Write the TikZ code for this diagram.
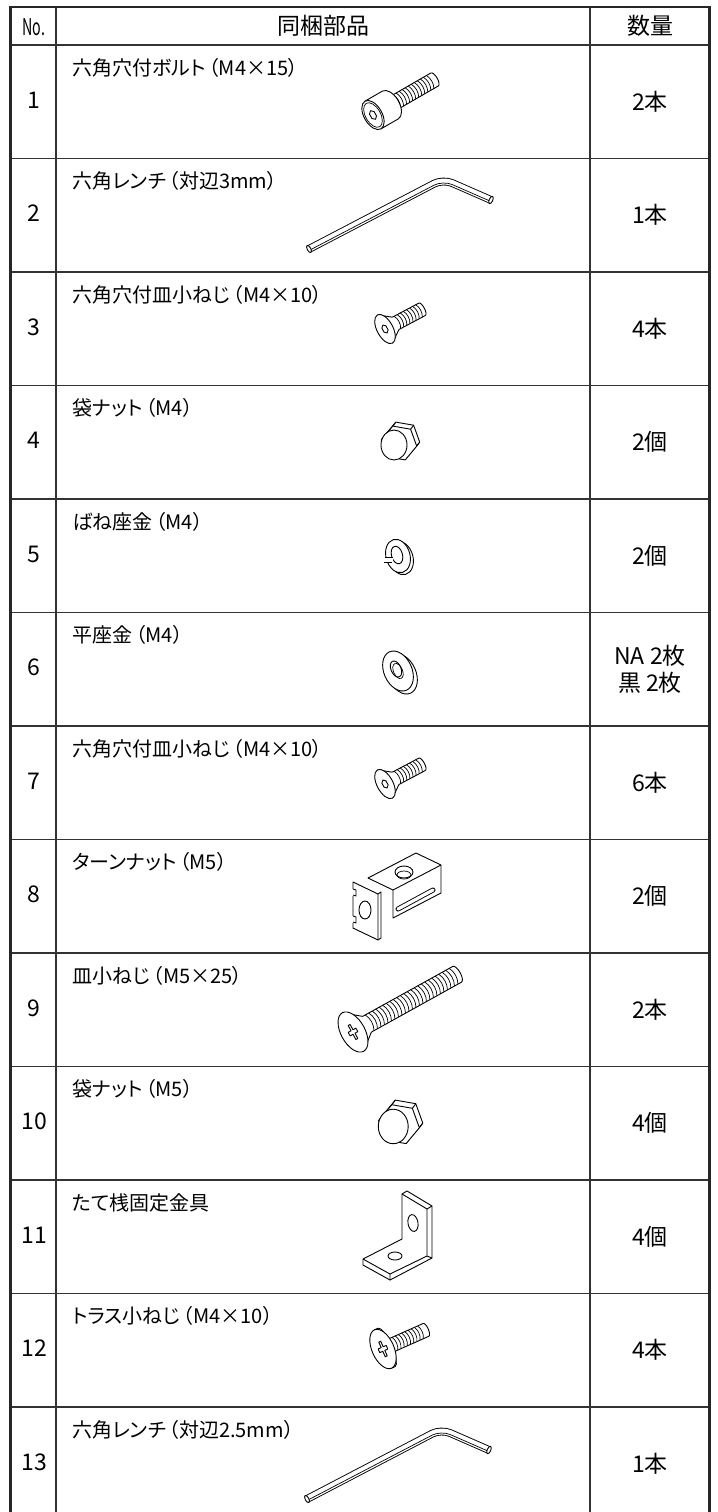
\documentclass[tikz,border=0pt]{standalone}
\usepackage{graphicx}
\usepackage{fontspec}
\setmainfont{Noto Sans CJK JP}
\newfontfamily\itemfont[RawFeature=+palt]{Noto Sans CJK JP}
\newcommand{\lpar}{\hspace{1.5pt}（}
\usepackage{tikz}

\begin{document}
\begin{tikzpicture}[x=0.5pt, y=-0.5pt,
	gridline/.style={line width=0.7pt, black!80},
	borderline/.style={line width=1.25pt, black!85},
	headtext/.style={font=\fontsize{11.5}{13}\selectfont, inner sep=0pt},
	numtext/.style={font=\fontsize{11.5}{13}\selectfont, inner sep=0pt},
	itemtext/.style={anchor=base west, font=\itemfont\fontsize{10}{12}\selectfont, inner sep=0pt},
	qtytext/.style={font=\fontsize{11.5}{13.5}\selectfont, align=center, inner sep=0pt},
	partline/.style={line width=0.45pt, line join=round},
	thread/.style={line width=0.35pt},
	pics/hexcsk/.style={code={
		\draw[partline, fill=white] (10,-7) -- (42,-7) arc[start angle=-90, end angle=90, x radius=2.5, y radius=7] -- (10,7) -- cycle;
		\foreach \t in {14,17.5,...,39} \draw[thread] (\t,-7) .. controls (\t+2.5,-3) and (\t+2.5,3) .. (\t,7);
		\fill[white] (0,-16) -- (12,-7) -- (12,7) -- (0,16) -- cycle;
		\draw[partline] (0,-16) -- (12,-7) (0,16) -- (12,7);
		\draw[partline, fill=white] (0,0) ellipse [x radius=8, y radius=16];
		\draw[partline, xscale=0.6] (30:4.5) -- (90:4.5) -- (150:4.5) -- (210:4.5) -- (270:4.5) -- (330:4.5) -- cycle;
	}},
	pics/capnut/.style={code={
		\draw[partline, fill=white] (20.7,0.1) -- (9.2,13.9) -- (-8.6,10.8) -- (-14.7,-6.1) -- (-3.2,-19.9) -- (14.6,-16.8) -- cycle;
		\draw[partline] (20.7,0.1) -- (17.7,4.1) (9.2,13.9) -- (6.2,17.9) (-14.7,-6.1) -- (-17.7,-2.1) (-3.2,-19.9) -- (-6.2,-15.9) (14.6,-16.8) -- (11.6,-12.8);
		\draw[partline, fill=white] (17.7,4.1) -- (6.2,17.9) -- (-11.6,14.8) -- (-17.7,-2.1) -- (-6.2,-15.9) -- (11.6,-12.8) -- cycle;
		\draw[partline, fill=white] (-5,3) ellipse [x radius=13, y radius=15];
	}},
	pics/hexkey/.style={code={
		\draw[partline, double=white, double distance=3pt, rounded corners=5pt] (-134,70) -- (0,0) -- (48,21);
		\draw[thread, rounded corners=5pt] (-134,71.5) -- (0,1.5) -- (48,22.5);
		\draw[partline, fill=white, rotate around={27.6:(-134,70)}] (-134,70) ellipse [x radius=1.8, y radius=4];
		\draw[partline, fill=white, rotate around={-23.6:(48,21)}] (48,21) ellipse [x radius=1.8, y radius=4];
	}}]
	\useasboundingbox (0,0) rectangle (718,1512);

	% table
	\draw[gridline] (56,7) -- (56,1512) (590,7) -- (590,1512);
	\draw[gridline] (10.5,45) -- (709.5,45);
	\foreach \k in {1,...,12} \draw[gridline] (10.5,{45+113.5*\k}) -- (709.5,{45+113.5*\k});
	\draw[borderline] (10.5,1512) -- (10.5,7) -- (709.5,7) -- (709.5,1512);

	% header
	\node[headtext] (hno) at (34,27) {\scalebox{0.62}[1]{No.}};
	\node[headtext] (hpart) at (323,26) {同梱部品};
	\node[headtext] (hqty) at (650,26) {数量};

	% 1
	\node[numtext] (n1) at (34,100) {1};
	\node[itemtext] (i1) at (72,75) {六角穴付ボルト\lpar M4×15）};
	\node[qtytext] (q1) at (650,102) {2本};
	\begin{scope}[shift={(373,115)}, rotate=30]
		\draw[partline, fill=white] (20,-7.5) -- (71,-7.5) arc[start angle=-90, end angle=90, x radius=3, y radius=7.5] -- (20,7.5) -- cycle;
		\foreach \t in {24,27.5,...,69} \draw[thread] (\t,-7.5) .. controls (\t+2.5,-3) and (\t+2.5,3) .. (\t,7.5);
		\draw[partline, fill=white] (0,-16) -- (20,-16) arc[start angle=-90, end angle=90, x radius=9, y radius=16] -- (0,16) -- cycle;
		\draw[partline, fill=white] (0,0) ellipse [x radius=9, y radius=16];
		\draw[thread] (0,0) ellipse [x radius=7.5, y radius=13.5];
		\draw[partline, xscale=0.6] (30:5) -- (90:5) -- (150:5) -- (210:5) -- (270:5) -- (330:5) -- cycle;
	\end{scope}

	% 2
	\node[numtext] (n2) at (34,213) {2};
	\node[itemtext] (i2) at (72,188.5) {六角レンチ\lpar 対辺3mm）};
	\node[qtytext] (q2) at (650,215) {1本};
	\pic at (443,179) {hexkey};

	% 3
	\node[numtext] (n3) at (34,327) {3};
	\node[itemtext] (i3) at (72,302) {六角穴付皿小ねじ\lpar M4×10）};
	\node[qtytext] (q3) at (650,329) {4本};
	\pic[rotate=28] at (385,329) {hexcsk};

	% 4
	\node[numtext] (n4) at (34,440) {4};
	\node[itemtext] (i4) at (72,415.5) {袋ナット\lpar M4）};
	\node[qtytext] (q4) at (650,442) {2個};
	\pic at (399,442) {capnut};

	% 5
	\node[numtext] (n5) at (34,554) {5};
	\node[itemtext] (i5) at (72,529) {ばね座金\lpar M4）};
	\node[qtytext] (q5) at (650,556) {2個};
	\draw[partline, fill=white, rotate around={16:(401,558)}] (401,558) ellipse [x radius=12, y radius=17];
	\draw[partline, fill=white, rotate around={16:(398,556)}] (398,556) ellipse [x radius=12, y radius=17];
	\draw[partline, rotate around={16:(397,555)}] (397,555) ellipse [x radius=5.5, y radius=9];
	\fill[white] (384,557) rectangle (393,562);
	\draw[partline] (385,557) -- (393,557) (384,562) -- (392,562);

	% 6
	\node[numtext] (n6) at (34,667) {6};
	\node[itemtext] (i6) at (72,642.5) {平座金\lpar M4）};
	\node[qtytext] (q6) at (650,669) {NA 2枚\\黒 2枚};
	\draw[partline, fill=white, rotate around={24:(402,674)}] (402,674) ellipse [x radius=14, y radius=21];
	\draw[partline, fill=white, rotate around={24:(398,671)}] (398,671) ellipse [x radius=14, y radius=21];
	\draw[partline, rotate around={24:(396,669)}] (396,669) ellipse [x radius=5, y radius=8.5];
	\draw[thread, rotate around={24:(398,671)}] (398,671) ellipse [x radius=4.5, y radius=8];

	% 7
	\node[numtext] (n7) at (34,781) {7};
	\node[itemtext] (i7) at (72,756) {六角穴付皿小ねじ\lpar M4×10）};
	\node[qtytext] (q7) at (650,783) {6本};
	\pic[rotate=28] at (385,784) {hexcsk};

	% 8
	\node[numtext] (n8) at (34,894) {8};
	\node[itemtext] (i8) at (72,869.5) {ターンナット\lpar M5）};
	\node[qtytext] (q8) at (650,896) {2個};
	\draw[partline, fill=white] (368,878) -- (416,853) -- (441,865) -- (441,893) -- (393,918) -- (393,890) -- cycle;
	\draw[partline] (393,890) -- (441,865);
	\draw[partline] (404,872) ellipse [x radius=9, y radius=6];
	\draw[thread] (404,875) ellipse [x radius=7, y radius=4];
	\draw[partline, double=white, double distance=1.6pt, line cap=round] (398,909) -- (433,890);
	\draw[partline, fill=white] (353,882) -- (378,894) -- (378,940) -- (353,928) -- cycle;
	\draw[partline] (378,894) -- (381,892) -- (381,938) -- (378,940);
	\fill[white] (352,889) rectangle (356,896);
	\draw[partline] (353,889) -- (356,890) -- (356,896) -- (353,895);
	\fill[white] (352,916) rectangle (356,923);
	\draw[partline] (353,916) -- (356,917) -- (356,923) -- (353,922);
	\draw[partline] (365,910) ellipse [x radius=6, y radius=9];

	% 9
	\node[numtext] (n9) at (34,1008) {9};
	\node[itemtext] (i9) at (72,983) {皿小ねじ\lpar M5×25）};
	\node[qtytext] (q9) at (650,1010) {2本};
	\begin{scope}[shift={(353,1032)}, rotate=29]
		\draw[partline, fill=white] (14,-9) -- (119,-9) arc[start angle=-90, end angle=90, x radius=3.5, y radius=9] -- (14,9) -- cycle;
		\foreach \t in {19,23,...,115} \draw[thread] (\t,-9) .. controls (\t+3,-3.5) and (\t+3,3.5) .. (\t,9);
		\fill[white] (0,-22) -- (16,-9) -- (16,9) -- (0,22) -- cycle;
		\draw[partline] (0,-22) -- (16,-9) (0,22) -- (16,9);
		\draw[partline, fill=white] (0,0) ellipse [x radius=12, y radius=22];
		\draw[partline, xscale=0.55] (-2,-8) -- (2,-8) -- (2,-2) -- (8,-2) -- (8,2) -- (2,2) -- (2,8) -- (-2,8) -- (-2,2) -- (-8,2) -- (-8,-2) -- (-2,-2) -- cycle;
	\end{scope}

	% 10
	\node[numtext] (n10) at (34,1121) {10};
	\node[itemtext] (i10) at (72,1096.5) {袋ナット\lpar M5）};
	\node[qtytext] (q10) at (650,1123) {4個};
	\pic[scale=1.15] at (399,1123) {capnut};

	% 11
	\node[numtext] (n11) at (34,1235) {11};
	\node[itemtext] (i11) at (72,1210) {たて桟固定金具};
	\node[qtytext] (q11) at (650,1237) {4個};
	\draw[partline, fill=white] (402,1194) -- (407,1191) -- (432,1206) -- (432,1258) -- (390,1280) -- (363,1265) -- (363,1259) -- (402,1239) -- cycle;
	\draw[partline] (402,1194) -- (427,1209) -- (427,1256) -- (390,1274) -- (363,1259);
	\draw[partline] (427,1209) -- (432,1206) (427,1256) -- (432,1258) (390,1274) -- (390,1280);
	\draw[partline, rotate around={10:(413,1223)}] (413,1223) ellipse [x radius=5, y radius=8.5];
	\draw[partline] (395,1256) ellipse [x radius=7, y radius=4];

	% 12
	\node[numtext] (n12) at (34,1348) {12};
	\node[itemtext] (i12) at (72,1323.5) {トラス小ねじ\lpar M4×10）};
	\node[qtytext] (q12) at (650,1350) {4本};
	\begin{scope}[shift={(383,1349)}, rotate=24]
		\draw[partline, fill=white] (6,-7) -- (47,-7) arc[start angle=-90, end angle=90, x radius=2.5, y radius=7] -- (6,7) -- cycle;
		\foreach \t in {13,16.5,...,44} \draw[thread] (\t,-7) .. controls (\t+2.5,-3) and (\t+2.5,3) .. (\t,7);
		\draw[partline, fill=white] (0,-21) -- (4,-21) arc[start angle=-90, end angle=90, x radius=5, y radius=21] -- (0,21) -- cycle;
		\draw[partline, fill=white] (0,0) ellipse [x radius=11, y radius=21];
		\draw[partline, xscale=0.55] (-2,-8) -- (2,-8) -- (2,-2) -- (8,-2) -- (8,2) -- (2,2) -- (2,8) -- (-2,8) -- (-2,2) -- (-8,2) -- (-8,-2) -- (-2,-2) -- cycle;
	\end{scope}

	% 13
	\node[numtext] (n13) at (34,1462) {13};
	\node[itemtext] (i13) at (72,1437) {六角レンチ\lpar 対辺2.5mm）};
	\node[qtytext] (q13) at (650,1464) {1本};
	\pic at (441,1429) {hexkey};
\end{tikzpicture}
\end{document}
